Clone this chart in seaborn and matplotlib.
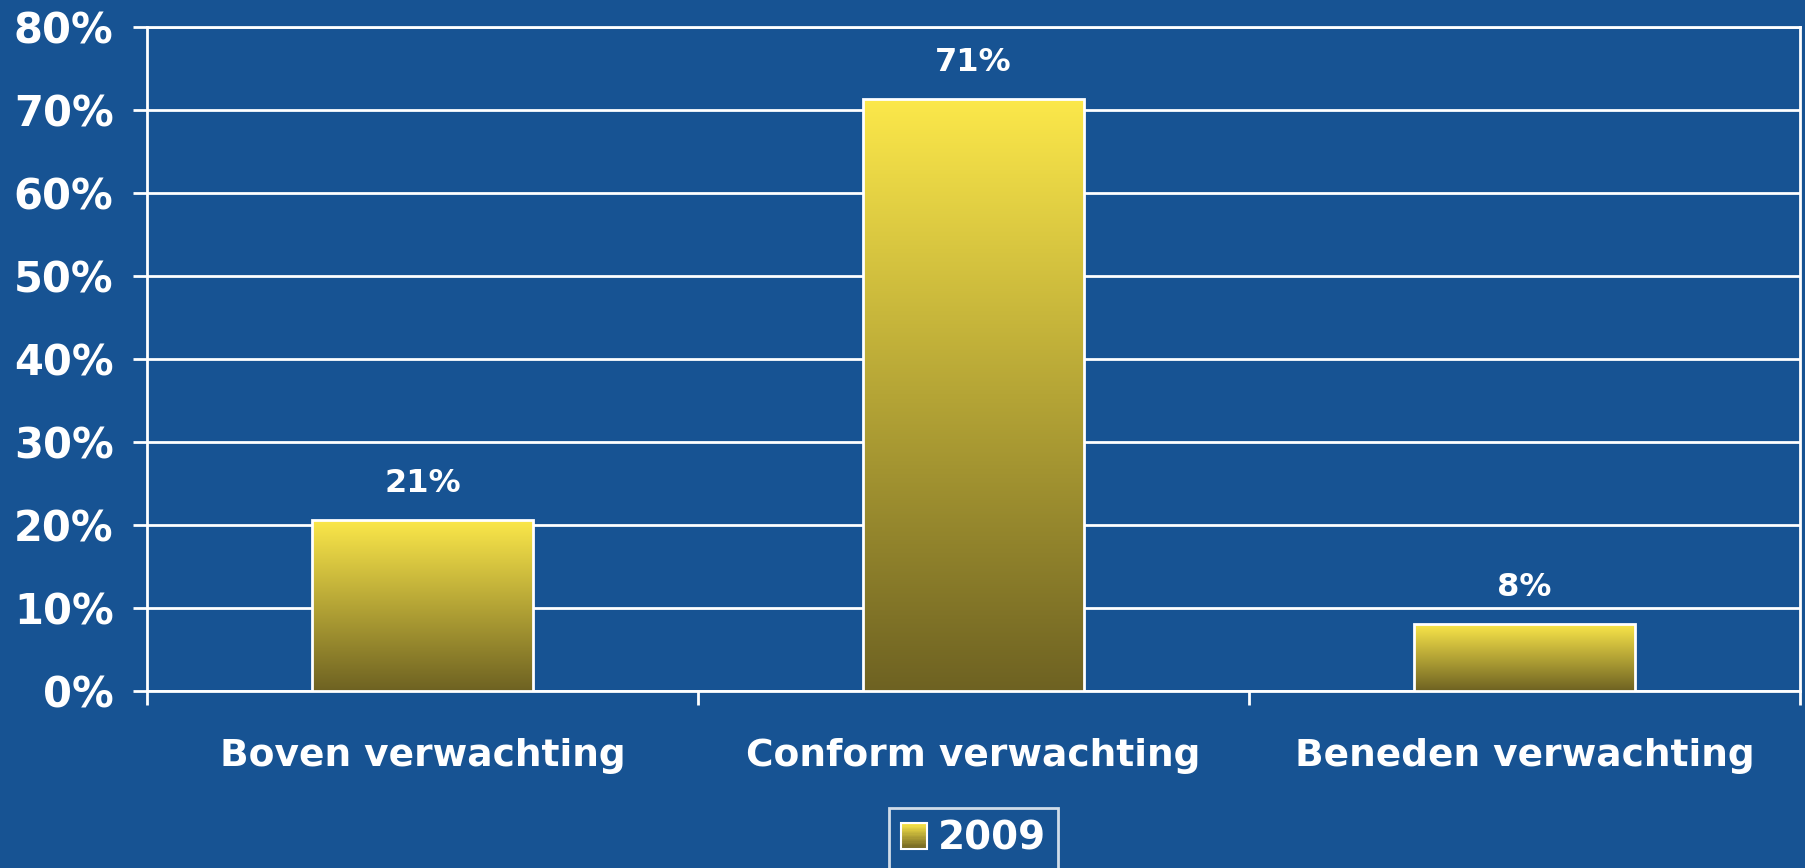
import numpy as np
import pandas as pd
import seaborn as sns
import matplotlib.pyplot as plt
from matplotlib.patches import Rectangle
from matplotlib.legend_handler import HandlerBase

# Data
categories = ['Boven verwachting', 'Conform verwachting', 'Beneden verwachting']
values = [20.6, 71.3, 8.1]
value_labels = ['21%', '71%', '8%']
series_name = '2009'
y_ticks = [0, 10, 20, 30, 40, 50, 60, 70, 80]

bg = '#175393'
top_col = np.array([252, 232, 74]) / 255
bot_col = np.array([110, 98, 34]) / 255

sns.set_theme(style='white')
plt.rcParams['font.family'] = ['DejaVu Sans']
plt.rcParams['font.weight'] = 'bold'

df = pd.DataFrame({'Categorie': categories, 'Waarde': values})

fig = plt.figure(figsize=(18.05, 8.68), dpi=100, facecolor=bg)
ax = fig.add_axes([0.0814, 0.2039, 0.9158, 0.7653])
ax.set_facecolor(bg)

sns.barplot(data=df, x='Categorie', y='Waarde', width=0.4, color=top_col,
            edgecolor='white', linewidth=2, ax=ax, zorder=3)

# gradient fill for each bar (yellow top -> dark olive bottom)
grad = np.linspace(0, 1, 256)[:, None, None]
grad_img = top_col * (1 - grad) + bot_col * grad
for p in ax.patches:
    x, y = p.get_x(), p.get_y()
    w, h = p.get_width(), p.get_height()
    im = ax.imshow(grad_img, extent=(x, x + w, y, y + h), origin='upper',
                   aspect='auto', zorder=2.9, interpolation='bilinear')
    im.set_clip_path(p)
    p.set_facecolor('none')

# value labels above bars
for p, lab in zip(ax.patches, value_labels):
    ax.annotate(lab, (p.get_x() + p.get_width() / 2, p.get_height()),
                xytext=(0, 15), textcoords='offset points', ha='center',
                va='bottom', color='white', fontsize=23, fontweight='bold')

ax.set_xlim(-0.5, 2.5)
ax.set_ylim(0, 80)
ax.set_yticks(y_ticks)
ax.set_yticklabels([f'{t}%' for t in y_ticks])
ax.yaxis.grid(True, color='white', linewidth=2)
ax.set_axisbelow(True)

ax.set_xticks([-0.5, 0.5, 1.5, 2.5], minor=True)
ax.tick_params(axis='x', which='minor', length=10, width=2, color='white',
               direction='out', bottom=True)
ax.tick_params(axis='x', which='major', length=0, pad=34, labelsize=27,
               labelcolor='white')
ax.tick_params(axis='y', length=10, width=2, color='white', direction='out',
               left=True, pad=14, labelsize=30, labelcolor='white')
for lab in ax.get_xticklabels() + ax.get_yticklabels():
    lab.set_fontweight('bold')
ax.set_xlabel('')
ax.set_ylabel('')

for side in ['left', 'right', 'bottom', 'top']:
    ax.spines[side].set_visible(True)
    ax.spines[side].set_color('white')
    ax.spines[side].set_linewidth(2)


# legend with a gradient swatch
class GradientHandler(HandlerBase):
    def create_artists(self, legend, orig_handle, xdescent, ydescent,
                       width, height, fontsize, trans):
        arts = []
        n = 20
        for i in range(n):
            f = i / (n - 1)
            c = bot_col * (1 - f) + top_col * f
            arts.append(Rectangle((-xdescent, -ydescent + height * i / n),
                                  width, height / n + 0.2, facecolor=c,
                                  edgecolor='none', transform=trans))
        arts.append(Rectangle((-xdescent, -ydescent), width, height,
                              facecolor='none', edgecolor='white',
                              linewidth=1.5, transform=trans))
        return arts


handle = Rectangle((0, 0), 1, 1)
leg = fig.legend([handle], [series_name], handler_map={Rectangle: GradientHandler()},
                 loc='upper center', bbox_to_anchor=(0.5393, 0.0691),
                 borderaxespad=0, frameon=True, fancybox=False,
                 handlelength=0.67, handleheight=0.67, handletextpad=0.3,
                 borderpad=0.3, prop={'weight': 'bold', 'size': 28})
leg.get_frame().set_facecolor(bg)
leg.get_frame().set_edgecolor('white')
leg.get_frame().set_linewidth(2)
for t in leg.get_texts():
    t.set_color('white')

fig.savefig('out.png', dpi=100, facecolor=bg)
